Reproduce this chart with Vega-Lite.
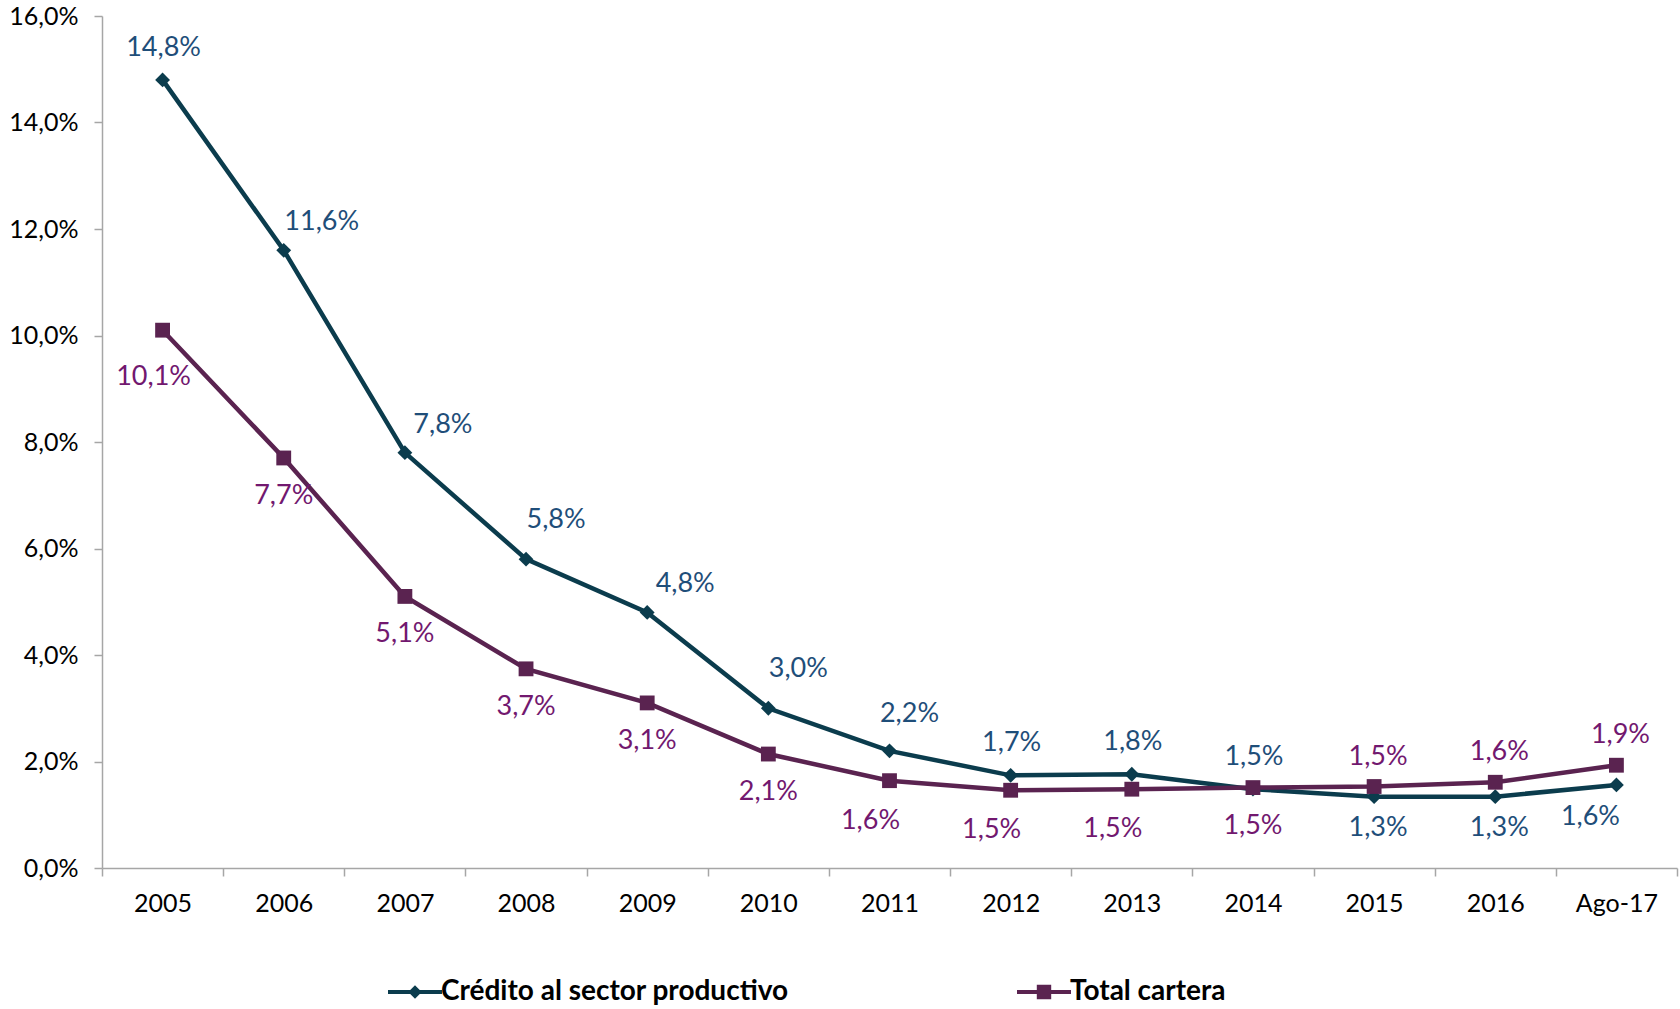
{
  "$schema": "https://vega.github.io/schema/vega-lite/v6.json",
  "width": 1575,
  "height": 852,
  "autosize": {"type": "none"},
  "padding": {"left": 102, "top": 16, "right": 3, "bottom": 141},
  "background": "white",
  "config": {
    "locale": {"number": {"decimal": ",", "thousands": ".", "grouping": [3], "currency": ["", " €"]}},
    "view": {"stroke": null},
    "font": "Lato",
    "axis": {
      "domainColor": "#a6a6a6",
      "domainWidth": 1.5,
      "tickColor": "#a6a6a6",
      "tickWidth": 1.5,
      "tickSize": 8,
      "grid": false,
      "labelFont": "Lato",
      "labelFontSize": 25,
      "labelColor": "#000000",
      "title": null
    }
  },
  "data": {
    "values": [
      {"year": "2005", "series": "Crédito al sector productivo", "value": 0.148},
      {"year": "2006", "series": "Crédito al sector productivo", "value": 0.116},
      {"year": "2007", "series": "Crédito al sector productivo", "value": 0.078},
      {"year": "2008", "series": "Crédito al sector productivo", "value": 0.058},
      {"year": "2009", "series": "Crédito al sector productivo", "value": 0.048},
      {"year": "2010", "series": "Crédito al sector productivo", "value": 0.030},
      {"year": "2011", "series": "Crédito al sector productivo", "value": 0.022},
      {"year": "2012", "series": "Crédito al sector productivo", "value": 0.0174},
      {"year": "2013", "series": "Crédito al sector productivo", "value": 0.0176},
      {"year": "2014", "series": "Crédito al sector productivo", "value": 0.0148},
      {"year": "2015", "series": "Crédito al sector productivo", "value": 0.0134},
      {"year": "2016", "series": "Crédito al sector productivo", "value": 0.0134},
      {"year": "Ago-17", "series": "Crédito al sector productivo", "value": 0.0156},
      {"year": "2005", "series": "Total cartera", "value": 0.101},
      {"year": "2006", "series": "Total cartera", "value": 0.077},
      {"year": "2007", "series": "Total cartera", "value": 0.051},
      {"year": "2008", "series": "Total cartera", "value": 0.0374},
      {"year": "2009", "series": "Total cartera", "value": 0.031},
      {"year": "2010", "series": "Total cartera", "value": 0.0214},
      {"year": "2011", "series": "Total cartera", "value": 0.0164},
      {"year": "2012", "series": "Total cartera", "value": 0.0146},
      {"year": "2013", "series": "Total cartera", "value": 0.0148},
      {"year": "2014", "series": "Total cartera", "value": 0.0151},
      {"year": "2015", "series": "Total cartera", "value": 0.0153},
      {"year": "2016", "series": "Total cartera", "value": 0.0161},
      {"year": "Ago-17", "series": "Total cartera", "value": 0.0193}
    ]
  },
  "encoding": {
    "x": {
      "field": "year",
      "type": "ordinal",
      "sort": null,
      "scale": {"type": "band", "paddingInner": 0, "paddingOuter": 0},
      "axis": {"labelAngle": 0, "tickBand": "extent", "labelPadding": 15}
    },
    "y": {
      "field": "value",
      "type": "quantitative",
      "scale": {"domain": [0, 0.16], "nice": false, "zero": true},
      "axis": {"values": [0, 0.02, 0.04, 0.06, 0.08, 0.1, 0.12, 0.14, 0.16], "format": ".1%", "labelPadding": 16}
    }
  },
  "layer": [
    {
      "mark": {"type": "line", "strokeWidth": 4.5},
      "encoding": {
        "detail": {"field": "series", "type": "nominal"},
        "stroke": {"condition": {"test": "datum.series === 'Total cartera'", "value": "#5a2350"}, "value": "#0b3c4d"}
      }
    },
    {
      "mark": {"type": "point", "filled": true, "opacity": 1, "size": 220},
      "encoding": {
        "fill": {"condition": {"test": "datum.series === 'Total cartera'", "value": "#5a2350"}, "value": "#0b3c4d"},
        "shape": {"condition": {"test": "datum.series === 'Total cartera'", "value": "square"}, "value": "diamond"}
      }
    },
    {
      "transform": [{"filter": "false"}],
      "mark": {"type": "point", "filled": true, "opacity": 1},
      "encoding": {
        "color": {"field": "series", "type": "nominal",
          "scale": {"domain": ["Crédito al sector productivo", "Total cartera"], "range": ["#0b3c4d", "#5a2350"]},
          "legend": {"orient": "none", "legendX": 299, "legendY": 962, "direction": "horizontal", "title": null,
            "labelFontSize": 28, "labelFontWeight": "bold", "labelColor": "#000000", "labelFont": "Lato", "labelLimit": 800,
            "symbolSize": 324, "labelOffset": 12, "columnPadding": 228, "symbolStrokeWidth": 0, "padding": 0, "offset": 0}},
        "shape": {"field": "series", "type": "nominal",
          "scale": {"domain": ["Crédito al sector productivo", "Total cartera"],
            "range": ["M-3,-0.22H3V0.22H-3Z M0,-0.75L0.75,0L0,0.75L-0.75,0Z", "M-3,-0.22H3V0.22H-3Z M-0.8,-0.8H0.8V0.8H-0.8Z"]},
          "legend": {"orient": "none", "legendX": 299, "legendY": 962, "direction": "horizontal", "title": null,
            "labelFontSize": 28, "labelFontWeight": "bold", "labelColor": "#000000", "labelFont": "Lato", "labelLimit": 800,
            "symbolSize": 324, "labelOffset": 12, "columnPadding": 228, "symbolStrokeWidth": 0, "padding": 0, "offset": 0}}
      }
    },
    {
      "transform": [{"filter": {"and": [{"field": "series", "equal": "Crédito al sector productivo"}, {"field": "year", "oneOf": ["2005", "2012", "2013", "2014"]}]}}],
      "mark": {"type": "text", "dx": 1, "dy": -32, "fontSize": 27, "color": "#1f4e79"},
      "encoding": {"text": {"field": "value", "type": "quantitative", "format": ".1%"}}
    },
    {
      "transform": [{"filter": {"and": [{"field": "series", "equal": "Crédito al sector productivo"}, {"field": "year", "oneOf": ["2006", "2007", "2009"]}]}}],
      "mark": {"type": "text", "dx": 38, "dy": -28, "fontSize": 27, "color": "#1f4e79"},
      "encoding": {"text": {"field": "value", "type": "quantitative", "format": ".1%"}}
    },
    {
      "transform": [{"filter": {"and": [{"field": "series", "equal": "Crédito al sector productivo"}, {"field": "year", "oneOf": ["2008", "2010"]}]}}],
      "mark": {"type": "text", "dx": 30, "dy": -39, "fontSize": 27, "color": "#1f4e79"},
      "encoding": {"text": {"field": "value", "type": "quantitative", "format": ".1%"}}
    },
    {
      "transform": [{"filter": {"and": [{"field": "series", "equal": "Crédito al sector productivo"}, {"field": "year", "oneOf": ["2011"]}]}}],
      "mark": {"type": "text", "dx": 20, "dy": -37, "fontSize": 27, "color": "#1f4e79"},
      "encoding": {"text": {"field": "value", "type": "quantitative", "format": ".1%"}}
    },
    {
      "transform": [{"filter": {"and": [{"field": "series", "equal": "Crédito al sector productivo"}, {"field": "year", "oneOf": ["2015", "2016"]}]}}],
      "mark": {"type": "text", "dx": 4, "dy": 31, "fontSize": 27, "color": "#1f4e79"},
      "encoding": {"text": {"field": "value", "type": "quantitative", "format": ".1%"}}
    },
    {
      "transform": [{"filter": {"and": [{"field": "series", "equal": "Crédito al sector productivo"}, {"field": "year", "oneOf": ["Ago-17"]}]}}],
      "mark": {"type": "text", "dx": -26, "dy": 32, "fontSize": 27, "color": "#1f4e79"},
      "encoding": {"text": {"field": "value", "type": "quantitative", "format": ".1%"}}
    },
    {
      "transform": [{"filter": {"and": [{"field": "series", "equal": "Total cartera"}, {"field": "year", "oneOf": ["2005"]}]}}],
      "mark": {"type": "text", "dx": -9, "dy": 47, "fontSize": 27, "color": "#72186f"},
      "encoding": {"text": {"field": "value", "type": "quantitative", "format": ".1%"}}
    },
    {
      "transform": [{"filter": {"and": [{"field": "series", "equal": "Total cartera"}, {"field": "year", "oneOf": ["2006", "2007", "2008", "2009", "2010", "2014"]}]}}],
      "mark": {"type": "text", "dx": 0, "dy": 38, "fontSize": 27, "color": "#72186f"},
      "encoding": {"text": {"field": "value", "type": "quantitative", "format": ".1%"}}
    },
    {
      "transform": [{"filter": {"and": [{"field": "series", "equal": "Total cartera"}, {"field": "year", "oneOf": ["2011", "2012", "2013"]}]}}],
      "mark": {"type": "text", "dx": -19, "dy": 40, "fontSize": 27, "color": "#72186f"},
      "encoding": {"text": {"field": "value", "type": "quantitative", "format": ".1%"}}
    },
    {
      "transform": [{"filter": {"and": [{"field": "series", "equal": "Total cartera"}, {"field": "year", "oneOf": ["2015", "2016", "Ago-17"]}]}}],
      "mark": {"type": "text", "dx": 4, "dy": -30, "fontSize": 27, "color": "#72186f"},
      "encoding": {"text": {"field": "value", "type": "quantitative", "format": ".1%"}}
    }
  ]
}
